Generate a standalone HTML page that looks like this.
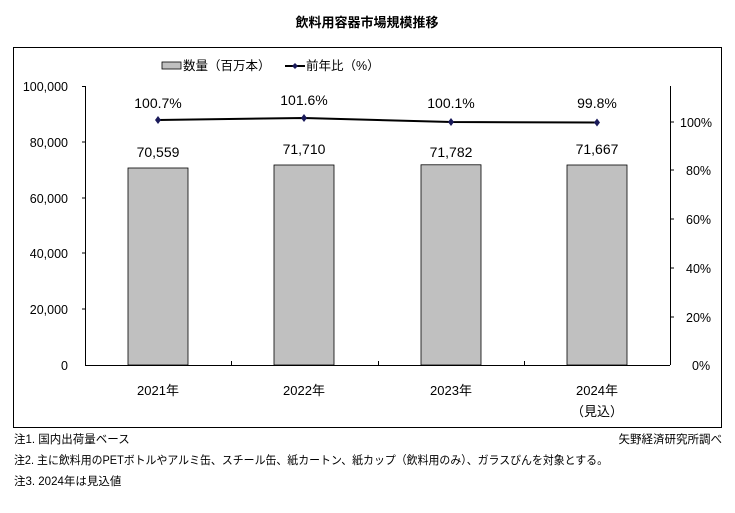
<!DOCTYPE html>
<html><head><meta charset="utf-8"><style>
body{margin:0;background:#fff;width:735px;height:508px;overflow:hidden}
svg text{font-family:"Liberation Sans","Noto Sans CJK JP",sans-serif;fill:#000}
</style></head><body>
<svg width="735" height="508" viewBox="0 0 735 508">
<text x="367" y="27" font-size="13" font-weight="bold" text-anchor="middle" fill="#222">飲料用容器市場規模推移</text>
<rect x="13.5" y="47.5" width="708" height="380" fill="none" stroke="#000" stroke-width="1"/>
<rect x="162" y="62" width="19" height="7" fill="#c0c0c0" stroke="#000" stroke-width="0.8"/>
<text x="183" y="70" font-size="12.5">数量（百万本）</text>
<line x1="285" y1="66" x2="305" y2="66" stroke="#000" stroke-width="2"/>
<path d="M295 63 L298 66 L295 69 L292 66Z" fill="#1a1a5a"/>
<text x="306" y="70" font-size="12.5">前年比（%）</text>
<line x1="85.5" y1="86" x2="85.5" y2="365" stroke="#000"/>
<g stroke="#000"><line x1="82" y1="86.5" x2="85" y2="86.5"/><line x1="82" y1="142" x2="85" y2="142"/><line x1="82" y1="198" x2="85" y2="198"/><line x1="82" y1="253" x2="85" y2="253"/><line x1="82" y1="309" x2="85" y2="309"/></g>
<g font-size="12.5" text-anchor="end">
<text x="68" y="91">100,000</text><text x="68" y="147">80,000</text><text x="68" y="203">60,000</text><text x="68" y="258">40,000</text><text x="68" y="314">20,000</text><text x="68" y="370">0</text></g>
<line x1="670.5" y1="86" x2="670.5" y2="365" stroke="#000"/>
<g stroke="#000"><line x1="670" y1="122" x2="674" y2="122"/><line x1="670" y1="170" x2="674" y2="170"/><line x1="670" y1="219" x2="674" y2="219"/><line x1="670" y1="268" x2="674" y2="268"/><line x1="670" y1="317" x2="674" y2="317"/></g>
<g font-size="12.5">
<text x="680" y="127">100%</text><text x="686" y="175">80%</text><text x="686" y="224">60%</text><text x="686" y="273">40%</text><text x="686" y="322">20%</text><text x="692" y="370">0%</text></g>
<g fill="#c0c0c0" stroke="#000" stroke-width="0.8">
<rect x="128" y="168" width="60" height="197"/>
<rect x="274" y="165" width="60" height="200"/>
<rect x="421" y="164.8" width="60" height="200.2"/>
<rect x="567" y="165" width="60" height="200"/></g>
<line x1="85" y1="365.5" x2="670" y2="365.5" stroke="#000"/>
<g stroke="#000"><line x1="231.5" y1="361" x2="231.5" y2="365"/><line x1="378.5" y1="361" x2="378.5" y2="365"/><line x1="524.5" y1="361" x2="524.5" y2="365"/></g>
<g font-size="14" text-anchor="middle">
<text x="158" y="157">70,559</text><text x="304" y="154">71,710</text><text x="451" y="157">71,782</text><text x="597" y="154">71,667</text>
<text x="158" y="108">100.7%</text><text x="304" y="105">101.6%</text><text x="451" y="108">100.1%</text><text x="597" y="108">99.8%</text></g>
<polyline points="158,120 304,118 451,122 597,122.5" fill="none" stroke="#000" stroke-width="2"/>
<g fill="#1a1a5a">
<path d="M158 116 L161 120 L158 124 L155 120Z"/><path d="M304 114 L307 118 L304 122 L301 118Z"/><path d="M451 118 L454 122 L451 126 L448 122Z"/><path d="M597 118.5 L600 122.5 L597 126.5 L594 122.5Z"/></g>
<g font-size="13" text-anchor="middle">
<text x="158" y="395">2021年</text><text x="304" y="395">2022年</text><text x="451" y="395">2023年</text><text x="597" y="395">2024年</text><text x="597" y="416">（見込）</text></g>
<g font-size="11.5">
<text x="14" y="443">注1.  国内出荷量ベース</text>
<text x="722" y="443" text-anchor="end">矢野経済研究所調べ</text>
<text x="14" y="464" textLength="594" lengthAdjust="spacingAndGlyphs">注2.  主に飲料用のPETボトルやアルミ缶、スチール缶、紙カートン、紙カップ（飲料用のみ）、ガラスびんを対象とする。</text>
<text x="14" y="485">注3.  2024年は見込値</text></g>
</svg>
</body></html>
